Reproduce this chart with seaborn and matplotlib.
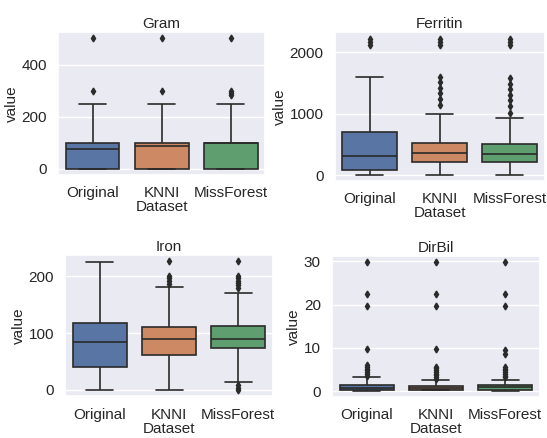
import numpy as np
import pandas as pd
import matplotlib
matplotlib.use('Agg')
import matplotlib.pyplot as plt
import seaborn as sns

# ─── Données ─────────────────────────────────────────────────────────────────
methods = ['Original', 'KNNI', 'MissForest']

# (moustache basse, Q1, médiane, Q3, moustache haute) par méthode
gram_box = [(0, 0, 75, 100, 250), (0, 0, 88, 100, 250), (0, 0, 100, 100, 250)]
gram_out = [[300, 500], [300, 500], [282, 290, 298, 500]]
gram_ticks = [0, 200, 400]

ferritin_box = [(10, 85, 305, 705, 1600), (10, 215, 368, 530, 1000), (10, 218, 340, 508, 935)]
ferritin_out = [[2120, 2170, 2220],
                [1150, 1240, 1330, 1420, 1510, 1600, 2120, 2170, 2220],
                [1010, 1130, 1220, 1310, 1400, 1490, 1580, 2120, 2170, 2220]]
ferritin_ticks = [0, 1000, 2000]

iron_box = [(0, 41, 84, 118, 225), (0, 61, 90, 110, 181), (14, 73, 90, 113, 170)]
iron_out = [[],
            [187, 191, 196, 200, 226],
            [0, 4, 8, 180, 184, 188, 192, 196, 200, 226]]
iron_ticks = [0, 100, 200]

dirbil_box = [(0.1, 0.3, 0.8, 1.5, 3.2), (0.2, 0.4, 0.8, 1.3, 2.5), (0.1, 0.3, 0.9, 1.4, 2.5)]
dirbil_out = [[3.6, 4.0, 4.4, 4.8, 5.2, 5.6, 6.0, 9.8, 19.8, 22.5, 29.8],
              [2.9, 3.3, 3.7, 4.1, 4.5, 4.9, 5.3, 5.7, 9.8, 19.8, 22.5, 29.8],
              [3.2, 3.6, 4.0, 4.4, 4.8, 5.2, 5.6, 8.5, 9.6, 19.8, 22.5, 29.8]]
dirbil_ticks = [0, 10, 20, 30]


def sample(box, out):
    """Reconstruit un échantillon dont les quartiles tombent sur les valeurs lues."""
    lo, q1, med, q3, hi = box
    low = [v for v in out if v < q1]
    high = [v for v in out if v > q3]
    k = max(len(low), len(high)) + 1
    return (low + [lo] + [q1] * (k - len(low)) + [med] * k
            + [q3] * (2 * k - 1 - len(high)) + [hi] + high)


def long_df(boxes, outs):
    rows = []
    for m, b, o in zip(methods, boxes, outs):
        rows += [(m, v) for v in sample(b, o)]
    return pd.DataFrame(rows, columns=['Dataset', 'value'])


# ─── Figure ──────────────────────────────────────────────────────────────────
sns.set_theme(style='darkgrid')
plt.rcParams['font.family'] = ['Liberation Sans', 'DejaVu Sans']
FS = 11

fig = plt.figure(figsize=(5.47, 4.38), dpi=100)

panels = [
    ('Gram', gram_box, gram_out, gram_ticks, [0.106, 0.600, 0.379, 0.327]),
    ('Ferritin', ferritin_box, ferritin_out, ferritin_ticks, [0.612, 0.586, 0.384, 0.341]),
    ('Iron', iron_box, iron_out, iron_ticks, [0.119, 0.095, 0.380, 0.323]),
    ('DirBil', dirbil_box, dirbil_out, dirbil_ticks, [0.607, 0.093, 0.380, 0.323]),
]

dark = '#2a2a2a'
for title, boxes, outs, ticks, pos in panels:
    ax = fig.add_axes(pos)
    df = long_df(boxes, outs)
    sns.boxplot(data=df, x='Dataset', y='value', hue='Dataset', palette='deep',
                legend=False, ax=ax, linecolor=dark, linewidth=1.2, width=0.78,
                flierprops=dict(marker='d', markersize=3.5,
                                markerfacecolor=dark, markeredgecolor=dark))
    ax.set_yticks(ticks)
    ax.set_title(title, fontsize=FS, pad=3)
    ax.set_xlabel('Dataset', fontsize=FS, labelpad=0)
    ax.set_ylabel('value', fontsize=FS, labelpad=2)
    ax.tick_params(axis='both', labelsize=FS, pad=2)

fig.savefig('out.png', dpi=100)
